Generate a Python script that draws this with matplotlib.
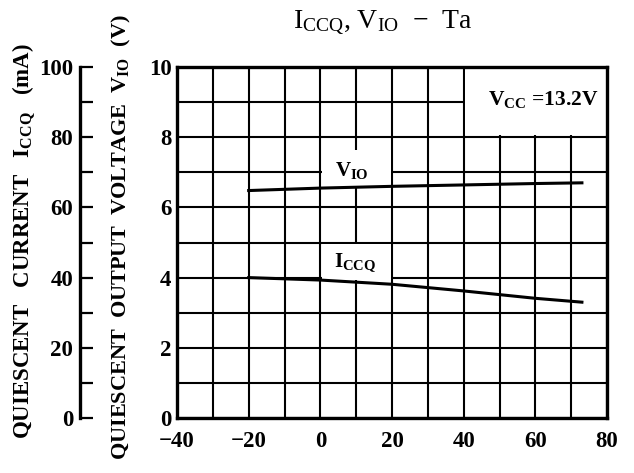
import numpy as np
import matplotlib
matplotlib.use("Agg")
import matplotlib.pyplot as plt
from matplotlib.patches import Rectangle

plt.rcParams["font.family"] = ["Liberation Serif", "DejaVu Serif"]
plt.rcParams["font.weight"] = "bold"
plt.rcParams["mathtext.fontset"] = "custom"
plt.rcParams["mathtext.rm"] = "Liberation Serif:normal"
plt.rcParams["mathtext.bf"] = "Liberation Serif:bold"
plt.rcParams["mathtext.default"] = "bf"

# ── data ────────────────────────────────────────────────────────────────
temp_vio = [-20, 0, 20, 40, 60, 73]
vio      = [6.48, 6.55, 6.60, 6.64, 6.68, 6.70]      # V
temp_icc = [-20, 0, 20, 40, 60, 73]
iccq     = [40.0, 39.3, 38.1, 36.2, 34.1, 33.0]      # mA

x_major = [-40, -20, 0, 20, 40, 60, 80]
v_major = [0, 2, 4, 6, 8, 10]
i_major = [0, 20, 40, 60, 80, 100]

W, H = 634, 473
fig = plt.figure(figsize=(W/100, H/100), dpi=100)
ax = fig.add_axes([177/W, 55/H, 430/W, 351/H])
ax.set_xlim(-40, 80); ax.set_ylim(0, 10)
ax.set_xticks(x_major); ax.set_xticks(np.arange(-40, 81, 10), minor=True)
ax.set_yticks(v_major); ax.set_yticks(np.arange(0, 11, 1), minor=True)
ax.grid(which="both", color="black", lw=1.5)
ax.set_axisbelow(True)
ax.tick_params(which="both", length=0, labelsize=16.5)
ax.tick_params(axis="x", pad=9)
ax.tick_params(axis="y", pad=4)
for s in ax.spines.values():
    s.set_linewidth(2.4)

# white blanks behind the labels
for (x0, y0, w, h) in [(40.4, 8.05, 39.6, 1.95),
                       (0.4, 6.62, 19.2, 1.01),
                       (0.4, 3.93, 19.2, 1.03)]:
    ax.add_patch(Rectangle((x0, y0), w, h, facecolor="white",
                           edgecolor="none", zorder=1))

ax.plot(temp_vio, vio, color="black", lw=2.2, zorder=3)

# current axis on the far left
ax_i = ax.twinx()
ax_i.set_ylim(0, 100)
ax_i.plot(temp_icc, iccq, color="black", lw=2.2, zorder=3)
for k in ["right", "top", "bottom"]:
    ax_i.spines[k].set_visible(False)
ax_i.spines["left"].set_position(("axes", -97/430))
ax_i.spines["left"].set_linewidth(2.4)
ax_i.yaxis.set_ticks_position("left")
ax_i.yaxis.set_label_position("left")
ax_i.set_yticks(i_major); ax_i.set_yticks(np.arange(10, 100, 20), minor=True)
ax_i.tick_params(axis="y", which="both", direction="in", length=9,
                 width=1.6, labelsize=16.5, pad=5)

ax.text(8.8, 7.05, r"$V_{IO}$", fontsize=15, ha="center", va="center", zorder=4)
ax.text(9.7, 4.45, r"$I_{CCQ}$", fontsize=15, ha="center", va="center", zorder=4)
ax.text(62.3, 9.06, r"$V_{CC}$ =13.2V", fontsize=15.5, ha="center", va="center", zorder=4)

fig.text(383/W, 1 - 23/H, r"$\mathrm{I_{CCQ}}$, $\mathrm{V_{IO}}$  −  Ta",
         fontsize=20, fontweight="normal", ha="center", va="center")
fig.text(24/W, 1 - 241/H, r"QUIESCENT   CURRENT   $I_{CCQ}$   (mA)",
         fontsize=16.5, rotation=90, ha="center", va="center")
fig.text(121/W, 1 - 237/H, r"QUIESCENT  OUTPUT  VOLTAGE  $V_{IO}$  (V)",
         fontsize=16, rotation=90, ha="center", va="center")

fig.savefig("out.png", dpi=100)
